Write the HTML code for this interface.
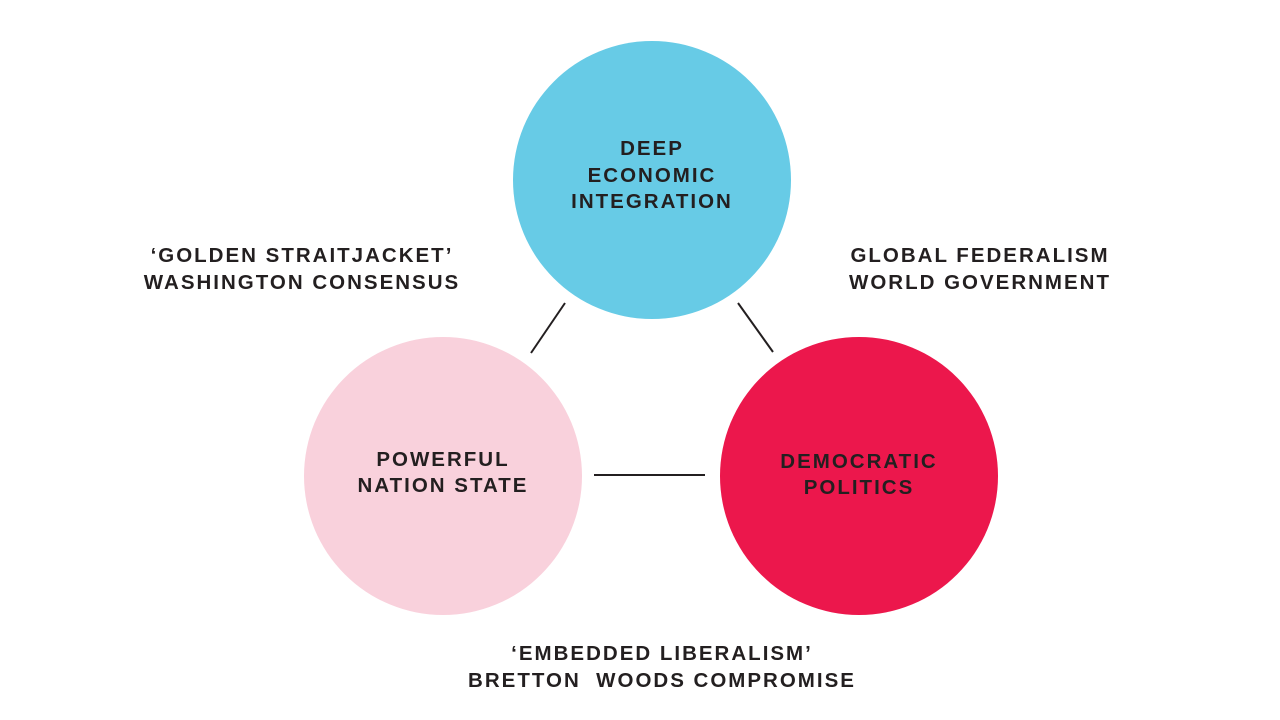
<!DOCTYPE html>
<html><head><meta charset="utf-8"><style>
body{margin:0;width:1280px;height:720px;background:#fff;overflow:hidden;position:relative;font-family:"Liberation Sans",sans-serif;}
.c{position:absolute;width:278px;height:278px;border-radius:50%;display:flex;align-items:center;justify-content:center;text-align:center;}
.t{font-weight:bold;font-size:20.5px;letter-spacing:2px;line-height:26.5px;color:#231f20;}
.l{position:absolute;text-align:center;}
</style></head><body>
<div class="c" style="left:513px;top:41px;background:#67CBE6"><div class="t" style="margin-top:-8px">DEEP<br>ECONOMIC<br>INTEGRATION</div></div>
<div class="c" style="left:304px;top:337px;background:#F9D1DC"><div class="t" style="margin-top:-6px">POWERFUL<br>NATION STATE</div></div>
<div class="c" style="left:720px;top:337px;background:#EC174C"><div class="t" style="margin-top:-2px">DEMOCRATIC<br>POLITICS</div></div>
<svg style="position:absolute;left:0;top:0" width="1280" height="720">
<line x1="565" y1="303" x2="531" y2="353" stroke="#231f20" stroke-width="2"/>
<line x1="738" y1="303" x2="773" y2="352" stroke="#231f20" stroke-width="2"/>
<line x1="594" y1="475" x2="705" y2="475" stroke="#231f20" stroke-width="2"/>
</svg>
<div class="l t" style="left:100px;top:243px;width:404px">‘GOLDEN STRAITJACKET’<br>WASHINGTON CONSENSUS</div>
<div class="l t" style="left:780px;top:243px;width:400px">GLOBAL FEDERALISM<br>WORLD GOVERNMENT</div>
<div class="l t" style="left:412px;top:641px;width:500px">‘EMBEDDED LIBERALISM’<br>BRETTON&nbsp; WOODS COMPROMISE</div>
</body></html>
